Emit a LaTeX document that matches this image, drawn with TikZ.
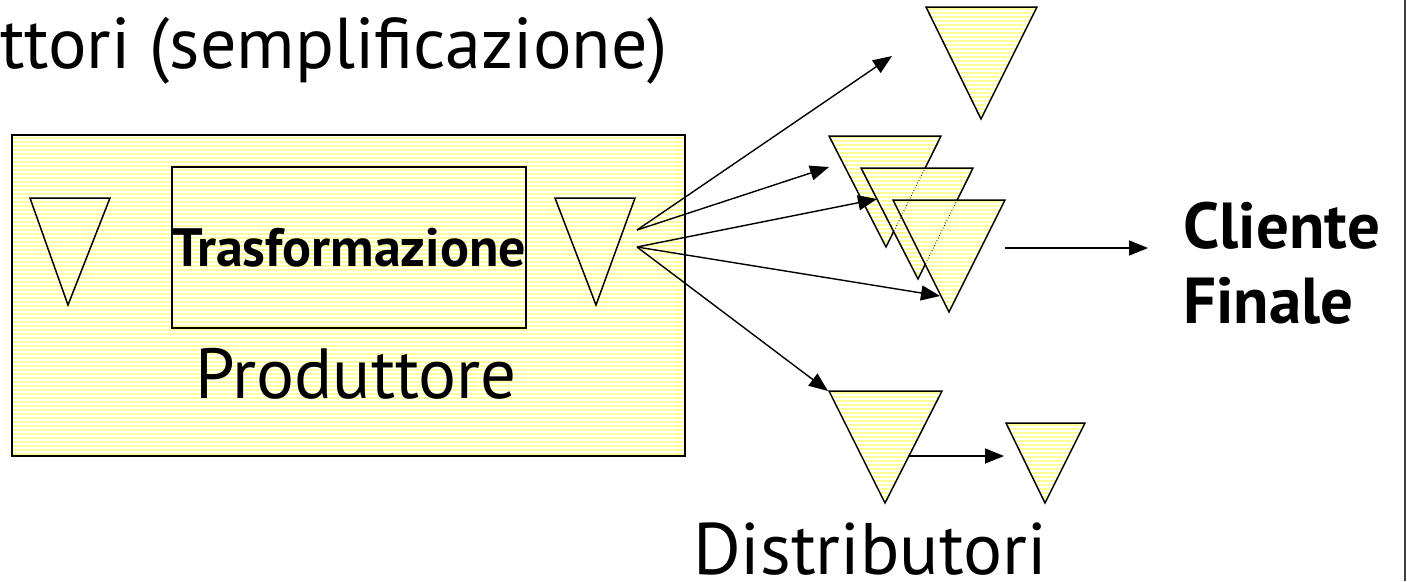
\documentclass[tikz,border=0pt]{standalone}
\usepackage{fontspec}
\setmainfont{PT Sans}
\usetikzlibrary{arrows.meta}

\definecolor{stockyellow}{RGB}{255,255,153}

\tikzset{
  striped/.style={fill=stockyellow, path picture={
    \foreach \k in {0,...,82}
      \draw[white, line width=1.2pt]
        ([yshift=\k*4pt]path picture bounding box.south west) --
        ([yshift=\k*4pt]path picture bounding box.south east);}},
  stock/.style={draw, line width=1.5pt, line join=miter},
  flow/.style={-{Triangle[length=19pt,width=15pt]}, line width=1.4pt},
}

\begin{document}
\begin{tikzpicture}[x=1pt, y=-1pt]

\useasboundingbox (0,0) rectangle (1407,581);

% title (cut at the left)
\node[anchor=base west, inner sep=0, font=\fontsize{72}{86}\selectfont] (title) at (0,68) {ttori (semplificazione)};

% producer box
\node[draw, line width=2pt, striped, minimum width=673pt, minimum height=321pt, inner sep=0] (produttore) at (348.5,295.5) {};
\node[draw, line width=1.5pt, minimum width=352pt, minimum height=161pt, inner sep=0,
      font=\bfseries\fontsize{54}{64}\selectfont] (trasf) at (349,247.5) {Trasformazione};
\node[anchor=base, inner sep=0, font=\fontsize{71}{84}\selectfont] (prodlabel) at (356,398) {Produttore};

% stocks inside the producer
\draw[stock] (30,198) -- (110,198) -- (68,305) -- cycle;
\draw[stock] (555,198) -- (635,198) -- (596,305) -- cycle;
\coordinate (src1) at (637,230);
\coordinate (src2) at (637,247);

% -------- retail stocks --------

% single stock on top
\draw[stock, striped] (926,7) -- (1037,7) -- (981,119) -- cycle;

% three stacked stocks
\draw[stock, striped] (829,136) -- (941,136) -- (886,247) -- cycle;
\draw[stock, striped] (861,168) -- (973,168) -- (918,279) -- cycle;
\draw[stock, striped] (893,200) -- (1005,200) -- (949,312) -- cycle;

% hidden edges
\draw[line width=0.8pt, dotted] (924,170) -- (886,247);
\draw[line width=0.8pt, dotted] (957,200) -- (918,279);

% -------- distributors --------
\draw[stock, striped] (829,391) -- (942,391) -- (885,503) -- cycle;
\draw[stock, striped] (1006,423) -- (1085,423) -- (1045,503) -- cycle;
\coordinate (dist1) at (909,456);
\coordinate (dist2) at (1004,456);

\node[anchor=base west, inner sep=0, font=\fontsize{73}{86}\selectfont] (distlabel) at (693,574) {Distributori};

% final customer
\node[anchor=west, align=left, inner sep=0, font=\bfseries\fontsize{65}{75}\selectfont] (cliente) at (1183,263) {Cliente\\Finale};
\coordinate (stackout) at (1005,248);
\coordinate (to-cliente) at (1148,248);

% arrow ends
\coordinate (to-top) at (892,56);
\coordinate (to-s1) at (829,167);
\coordinate (to-s2) at (877,199);
\coordinate (to-s3) at (940,296);
\coordinate (to-d1) at (828,391);

% flows
\draw[flow] (src1) -- (to-top);
\draw[flow] (src1) -- (to-s1);
\draw[flow] (src2) -- (to-s2);
\draw[flow] (src2) -- (to-s3);
\draw[flow] (src2) -- (to-d1);
\draw[flow] (dist1) -- (dist2);
\draw[flow] (stackout) -- (to-cliente);

% frame edge
\draw[line width=1.5pt, black!75] (1405,0) -- (1405,581);

\end{tikzpicture}
\end{document}
